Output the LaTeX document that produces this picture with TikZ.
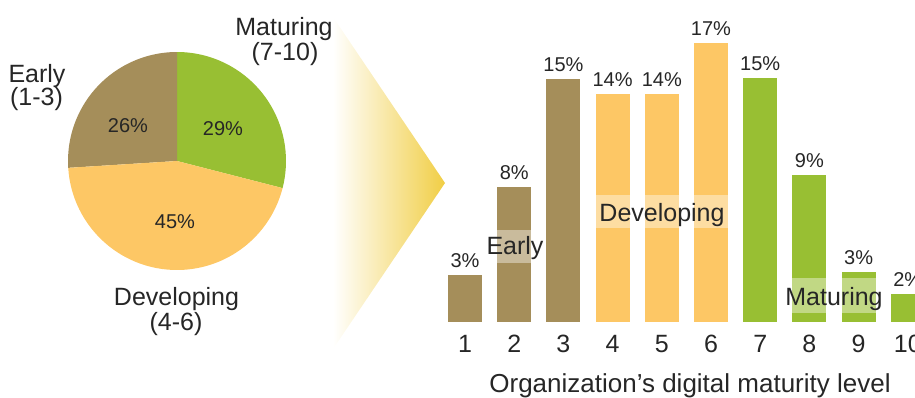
\documentclass[tikz,border=0pt]{standalone}
\usepackage{fontspec}
\setmainfont{Liberation Sans}
\definecolor{brownc}{HTML}{A58E5A}
\definecolor{yellowc}{HTML}{FDC765}
\definecolor{greenc}{HTML}{98BF33}
\definecolor{txt}{HTML}{262626}
\definecolor{chev}{HTML}{F1CE45}
\begin{document}
\begin{tikzpicture}[x=1pt,y=-1pt,
  lbl/.style={text=txt,inner sep=0pt,anchor=base,font=\fontsize{25}{25}\selectfont},
  pct/.style={text=txt,inner sep=0pt,anchor=base,font=\fontsize{20}{20}\selectfont},
  ttl/.style={text=txt,inner sep=0pt,anchor=base,font=\fontsize{26}{26}\selectfont},
  band/.style={fill=white,fill opacity=0.4}]
\useasboundingbox (0,0) rectangle (915,397);
% pie
\coordinate (pc) at (177,161);
\fill[greenc] (pc) -- ++(-90:109) arc[start angle=-90,end angle=14.4,radius=109] -- cycle;
\fill[brownc] (pc) -- ++(-90:109) arc[start angle=-90,end angle=-183.6,radius=109] -- cycle;
\fill[yellowc] (pc) -- ++(-183.6:109) arc[start angle=-183.6,end angle=-345.6,radius=109] -- cycle;
\node[pct] (p26) at (128,132) {26\%};
\node[pct] (p29) at (223,135) {29\%};
\node[pct] (p45) at (175,228) {45\%};
\node[lbl] (le1) at (37,82) {Early};
\node[lbl] (le2) at (36.5,105) {(1-3)};
\node[lbl] (lm1) at (284,35) {Maturing};
\node[lbl] (lm2) at (285,60) {(7-10)};
\node[lbl] (ld1) at (176.5,305) {Developing};
\node[lbl] (ld2) at (176,330) {(4-6)};
% chevron
\shade[left color=white,middle color=chev!35,right color=chev] (333,17) -- (445,183) -- (333,349) -- cycle;
% bars
\foreach \i/\t/\c/\p in {1/275/brownc/3,2/187/brownc/8,3/79/brownc/15,4/94/yellowc/14,5/94/yellowc/14,6/43/yellowc/17,7/78/greenc/15,8/175/greenc/9,9/272/greenc/3,10/294/greenc/2}{
  \pgfmathsetmacro{\L}{448+(\i-1)*49.2}
  \fill[\c] (\L,\t) rectangle ++(34,322-\t);
  \node[pct] (v\i) at (\L+17,\t-7.5) {\p\%};
  \node[lbl] (n\i) at (\L+17,352) {\i};
}
% bands
\fill[band] (497.2,230) rectangle ++(34,33);
\foreach \i in {4,5,6}{\pgfmathsetmacro{\L}{448+(\i-1)*49.2}\fill[band] (\L,195) rectangle ++(34,33);}
\foreach \i in {8,9}{\pgfmathsetmacro{\L}{448+(\i-1)*49.2}\fill[band] (\L,278) rectangle ++(34,35);}
\node[lbl] (be) at (515,254) {Early};
\node[lbl] (bd) at (662,221) {Developing};
\node[lbl] (bm) at (834,305) {Maturing};
\node[ttl] (ax) at (690,392) {Organization’s digital maturity level};
\end{tikzpicture}
\end{document}
